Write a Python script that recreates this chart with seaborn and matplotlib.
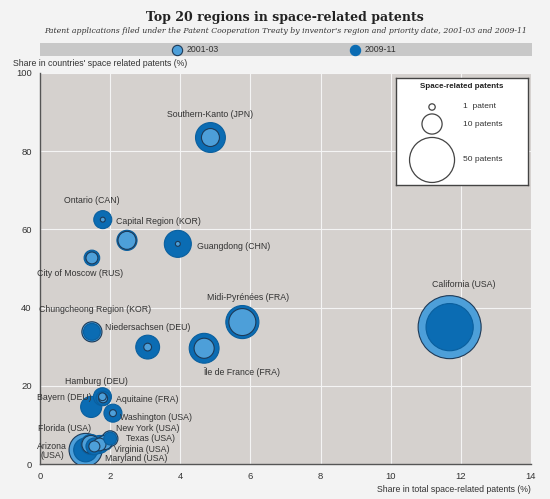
import pandas as pd
import matplotlib
matplotlib.use("Agg")
import matplotlib.pyplot as plt
import seaborn as sns

# values
regions = ["Southern-Kanto (JPN)", "Ontario (CAN)", "Capital Region (KOR)", "Guangdong (CHN)",
           "City of Moscow (RUS)", "Chungcheong Region (KOR)", "Niedersachsen (DEU)",
           "Midi-Pyrénées (FRA)", "Île de France (FRA)", "California (USA)", "Hamburg (DEU)",
           "Aquitaine (FRA)", "Bayern (DEU)", "Washington (USA)", "Florida (USA)",
           "Arizona\n(USA)", "New York (USA)", "Texas (USA)", "Virginia (USA)", "Maryland (USA)"]
share_total = [4.86, 1.79, 2.48, 3.93, 1.48, 1.48, 3.07, 5.77, 4.68, 11.68, 1.78,
               1.80, 1.46, 2.08, 1.45, 1.30, 2.00, 1.85, 1.70, 1.55]
share_country = [83.5, 62.5, 57.2, 56.3, 52.7, 33.8, 29.9, 36.3, 29.6, 35.0, 17.2,
                 16.8, 14.6, 13.0, 5.0, 3.6, 6.5, 5.5, 5.0, 4.5]
patents_0103 = [8, 0.6, 8, 0.6, 3.5, 10, 1.5, 18, 10, 98, 1.5, 2, 0, 1.2, 8, 27, 6, 5, 4, 3]
patents_0911 = [22, 8, 10, 18, 6, 7, 14, 27, 22, 55, 8, 5, 11, 8, 10, 14, 4, 6, 8, 7]
periods = ["2001-03", "2009-11"]
legend_counts = [1, 10, 50]
legend_texts = ["1  patent", "10 patents", "50 patents"]

# label placement (data coords, alignment)
label_pos = {
    "Southern-Kanto (JPN)": (4.85, 89.3, "center"),
    "Ontario (CAN)": (1.48, 67.3, "center"),
    "Capital Region (KOR)": (3.39, 62.1, "center"),
    "Guangdong (CHN)": (4.48, 55.5, "left"),
    "City of Moscow (RUS)": (1.14, 48.6, "center"),
    "Chungcheong Region (KOR)": (1.57, 39.6, "center"),
    "Niedersachsen (DEU)": (1.85, 34.8, "left"),
    "Midi-Pyrénées (FRA)": (5.93, 42.7, "center"),
    "Île de France (FRA)": (4.65, 23.6, "left"),
    "California (USA)": (12.09, 46.0, "center"),
    "Hamburg (DEU)": (1.6, 21.2, "center"),
    "Aquitaine (FRA)": (3.05, 16.6, "center"),
    "Bayern (DEU)": (0.69, 17.1, "center"),
    "Washington (USA)": (3.31, 12.0, "center"),
    "Florida (USA)": (0.69, 9.0, "center"),
    "Arizona\n(USA)": (0.35, 3.3, "center"),
    "New York (USA)": (3.08, 9.0, "center"),
    "Texas (USA)": (3.16, 6.6, "center"),
    "Virginia (USA)": (2.9, 3.6, "center"),
    "Maryland (USA)": (2.74, 1.3, "center"),
}

light_blue = "#4d9fd9"
dark_blue = "#0b6cb3"
edge_light = "#1d3a58"
text_col = "#333333"
k_area = 21  # pt^2 per patent

sns.set_style("white")
plt.rcParams["font.family"] = ["Liberation Sans Narrow", "Liberation Sans", "DejaVu Sans"]

# long table, biggest circles first so small ones stay on top
df = pd.DataFrame({
    "region": regions * 2,
    "x": share_total * 2,
    "y": share_country * 2,
    "period": [periods[0]] * len(regions) + [periods[1]] * len(regions),
    "patents": patents_0103 + patents_0911,
})
df = df.sort_values("patents", ascending=False).reset_index(drop=True)
edges = [edge_light if p == periods[0] else "#0a5f9e" for p in df["period"]]

fig = plt.figure(figsize=(5.5, 4.99), dpi=100, facecolor="#f3f3f3")
ax = fig.add_axes([40 / 550, 1 - 464 / 499, 491 / 550, 391 / 499])
ax.set_facecolor("#d5d1ce")

sns.scatterplot(data=df, x="x", y="y", hue="period", palette={periods[0]: light_blue, periods[1]: dark_blue},
                size="patents", sizes=(0, k_area * 100), size_norm=(0, 100),
                edgecolor=edges, linewidth=0.8, legend=False, ax=ax, zorder=3)

for r in regions:
    lx, ly, ha = label_pos[r]
    ax.text(lx, ly, r, ha=ha, va="center", fontsize=6.3, color=text_col, zorder=5,
            linespacing=1.1)

ax.set_xlim(0, 14)
ax.set_ylim(0, 100)
ax.set_xticks(range(0, 15, 2))
ax.set_yticks(range(0, 101, 20))
ax.grid(True, color="#f4f4f4", linewidth=0.8)
ax.set_axisbelow(True)
for s in ["top", "right"]:
    ax.spines[s].set_visible(False)
for s in ["left", "bottom"]:
    ax.spines[s].set_color("#555555")
    ax.spines[s].set_linewidth(1.0)
ax.tick_params(direction="in", length=3, width=1, color="#555555", labelsize=6.8,
               labelcolor=text_col, pad=6)
ax.set_xlabel("")
ax.set_ylabel("")

# titles
fig.text(285 / 550, 1 - 17 / 499, "Top 20 regions in space-related patents", ha="center", va="center",
         fontsize=9, fontweight="bold", family=["DejaVu Serif"], color="#222222")
fig.text(285 / 550, 1 - 31 / 499,
         "Patent applications filed under the Patent Cooperation Treaty by inventor's region and priority date, 2001-03 and 2009-11",
         ha="center", va="center", fontsize=5.6, style="italic", family=["DejaVu Serif"], color="#333333")
fig.text(13 / 550, 1 - 64 / 499, "Share in countries' space related patents (%)", ha="left", va="center",
         fontsize=6.3, color=text_col)
fig.text(531 / 550, 1 - 489 / 499, "Share in total space-related patents (%)", ha="right", va="center",
         fontsize=6.3, color=text_col)

# period legend band
band = fig.add_axes([40 / 550, 1 - 56 / 499, 492 / 550, 13 / 499])
band.set_facecolor("#c8c8c8")
band.set_xlim(0, 1)
band.set_ylim(0, 1)
band.set_xticks([])
band.set_yticks([])
for s in band.spines.values():
    s.set_visible(False)
for px, p, col, ec in [(177, periods[0], light_blue, edge_light), (355, periods[1], dark_blue, dark_blue)]:
    bx = (px - 40) / 492
    band.scatter([bx], [0.5], s=55, color=col, edgecolor=ec, linewidth=0.8)
    band.text(bx + 10 / 492, 0.5, p, ha="left", va="center", fontsize=6.3, color=text_col)

# bubble size legend box
lg = fig.add_axes([396 / 550, 1 - 185 / 499, 132 / 550, 107 / 499])
lg.set_facecolor("white")
lg.set_xlim(0, 1)
lg.set_ylim(0, 1)
lg.set_xticks([])
lg.set_yticks([])
for s in lg.spines.values():
    s.set_color("#444444")
    s.set_linewidth(1.0)
lg.text(0.5, 0.925, "Space-related patents", ha="center", va="center", fontsize=5.8,
        fontweight="bold", color="#222222")
for n, t, yy in zip(legend_counts, legend_texts, [0.729, 0.57, 0.234]):
    lg.scatter([0.273], [yy], s=n * k_area, facecolor="none", edgecolor="#444444", linewidth=0.9)
    lg.text(0.51, yy, t, ha="left", va="center", fontsize=6, color=text_col)

plt.savefig("out.png", dpi=100, facecolor=fig.get_facecolor())
